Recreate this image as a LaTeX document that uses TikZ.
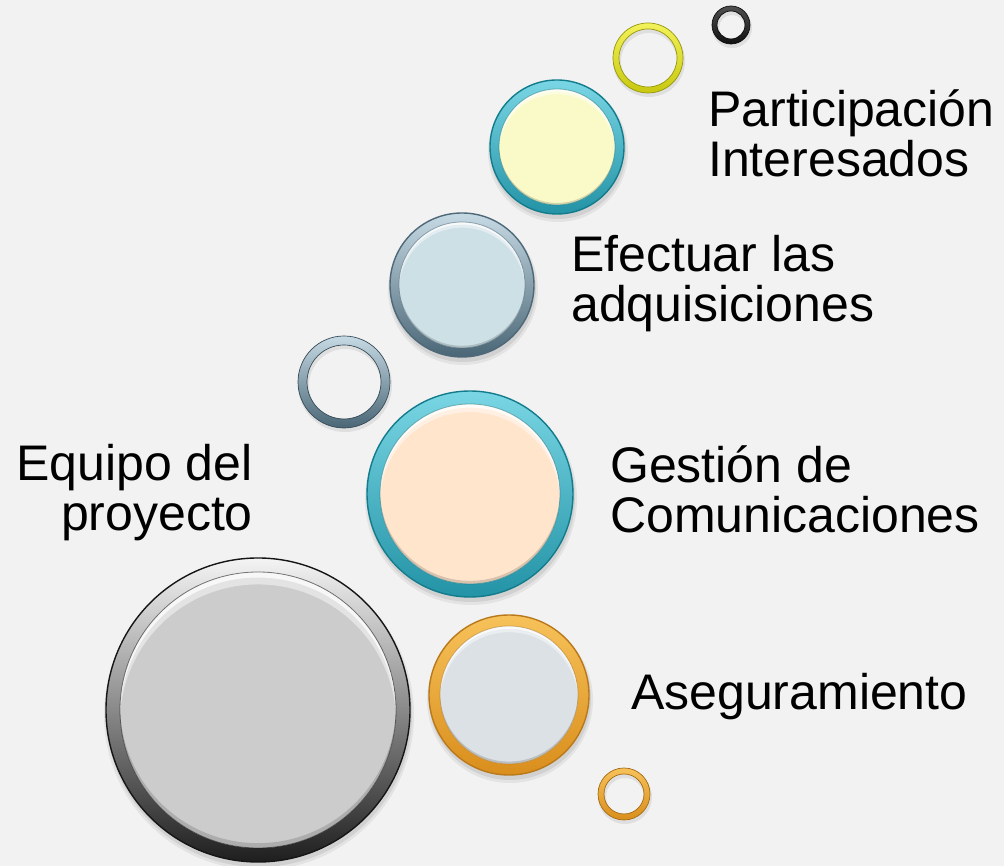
\documentclass[tikz,border=0pt]{standalone}
\usepackage{fontspec}
\setmainfont{Liberation Sans}
\definecolor{bg}{HTML}{F2F2F2}
% big gray
\definecolor{grayTop}{HTML}{F4F4F4}
\definecolor{grayBot}{HTML}{1E1E1E}
\definecolor{grayEdge}{HTML}{151515}
\definecolor{grayFill}{HTML}{CCCCCC}
% orange
\definecolor{orTop}{HTML}{F7C25A}
\definecolor{orBot}{HTML}{D98E1C}
\definecolor{orEdge}{HTML}{B9781A}
\definecolor{orFill}{HTML}{DCE1E5}
% teal
\definecolor{tlTop}{HTML}{7AD6E4}
\definecolor{tlBot}{HTML}{2393A6}
\definecolor{tlEdge}{HTML}{137C8C}
\definecolor{peach}{HTML}{FFE5CC}
\definecolor{paleYel}{HTML}{FAFAC8}
% blue gray
\definecolor{bgTop}{HTML}{C6DAE4}
\definecolor{bgBot}{HTML}{4A6676}
\definecolor{bgEdge}{HTML}{4E6878}
\definecolor{bgFill}{HTML}{CCE0E6}
% small rings
\definecolor{yelTop}{HTML}{F2F25A}
\definecolor{yelBot}{HTML}{C8C810}
\definecolor{blkTop}{HTML}{505050}
\definecolor{blkBot}{HTML}{101010}

\newcommand{\bubble}[8]{%
  \fill[black,opacity=0.06] (#1+1,#2-5) circle (#3+3);
  \fill[black,opacity=0.08] (#1+1,#2-4) circle (#3+1);
  \shade[top color=#5,bottom color=#6] (#1,#2) circle (#3);
  \draw[#7,line width=1.4] (#1,#2) circle (#3);
  \fill[#8] (#1,#2) circle (#4);
  \begin{scope}
    \clip (#1,#2) circle (#4);
    \fill[white,opacity=0.45,even odd rule] (#1,#2) circle (#4) (#1,#2-0.09*#4) circle (#4);
    \fill[white,opacity=0.75,even odd rule] (#1,#2) circle (#4) (#1,#2-0.04*#4) circle (#4);
    \fill[black,opacity=0.15,even odd rule] (#1,#2) circle (#4) (#1,#2+0.035*#4) circle (#4);
  \end{scope}
  \draw[#7,opacity=0.55,line width=0.8] (#1,#2) circle (#4);
}
\newcommand{\smallring}[6]{%
  \fill[black,opacity=0.08,even odd rule] (#1+1,#2-3) circle (#3+1) circle (#3-#4-1);
  \shade[top color=#5,bottom color=#6,even odd rule] (#1,#2) circle (#3) circle (#3-#4);
  \draw[#6!75!black,line width=0.7] (#1,#2) circle (#3) circle (#3-#4);
}
\tikzset{lbl/.style={inner sep=0pt,font=\fontsize{50}{50}\selectfont,text=black}}

\begin{document}
\begin{tikzpicture}[x=1pt,y=1pt]
\fill[bg] (0,0) rectangle (1004,866);
\useasboundingbox (0,0) rectangle (1004,866);

% circles (positions in pt, y upward)
\bubble{258}{156}{152}{138}{grayTop}{grayBot}{grayEdge}{grayFill}
\coordinate (cEquipo) at (258,156);
\bubble{509}{171}{80}{69}{orTop}{orBot}{orEdge}{orFill}
\coordinate (cAseg) at (509,171);
\smallring{624}{72}{26}{6}{orTop}{orBot}
\coordinate (rOrange) at (624,72);
\bubble{470}{372}{103}{90}{tlTop}{tlBot}{tlEdge}{peach}
\coordinate (cGestion) at (470,372);
\smallring{344}{484}{46}{9}{bgTop}{bgBot}
\coordinate (rBlue) at (344,484);
\bubble{462}{581}{72}{63}{bgTop}{bgBot}{bgEdge}{bgFill}
\coordinate (cEfectuar) at (462,581);
\bubble{557}{719}{67}{58}{tlTop}{tlBot}{tlEdge}{paleYel}
\coordinate (cPart) at (557,719);
\smallring{648}{808}{35}{6}{yelTop}{yelBot}
\coordinate (rYellow) at (648,808);
\smallring{731}{841}{19}{5}{blkTop}{blkBot}
\coordinate (rBlack) at (731,841);

% labels (base anchor = baseline of last line)
\node[lbl,anchor=base west,align=left] (tPart) at (708,689) {Participación\\Interesados};
\node[lbl,anchor=base west,align=left] (tEfec) at (571,544) {Efectuar las\\adquisiciones};
\node[lbl,anchor=base west,align=left] (tGest) at (610,333) {Gestión de\\Comunicaciones};
\node[lbl,anchor=base west] (tAseg) at (631,156) {Aseguramiento};
\node[lbl,anchor=base east,align=right] (tEquipo) at (253,335) {Equipo del\\proyecto};
\end{tikzpicture}
\end{document}
